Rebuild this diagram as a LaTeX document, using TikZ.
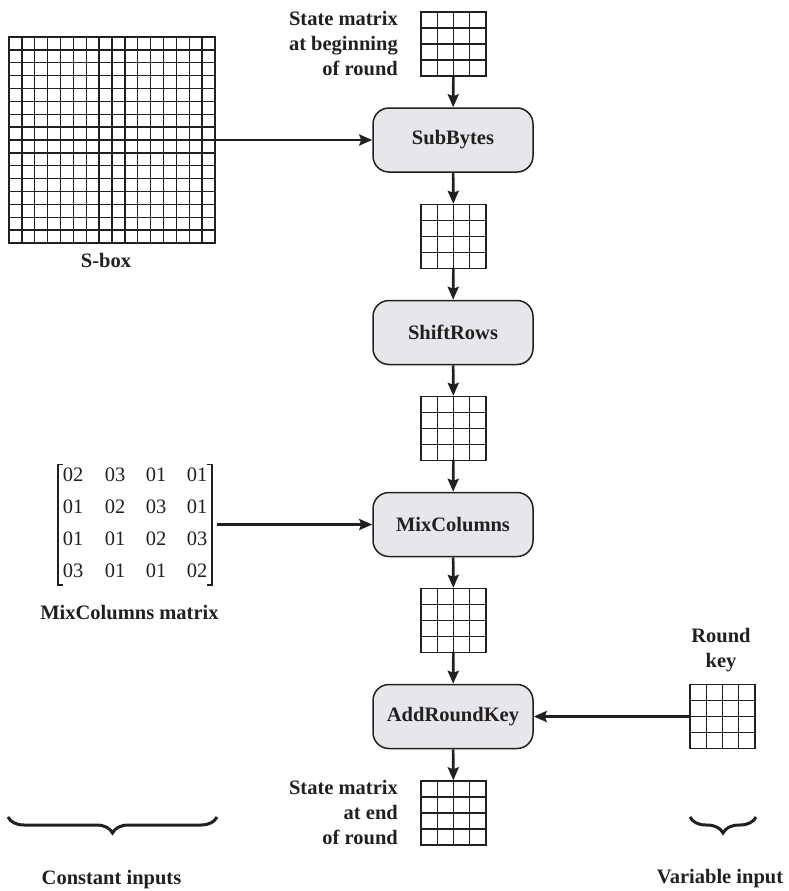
\documentclass[tikz,border=0pt]{standalone}
\usepackage{fontspec}
\setmainfont{Liberation Serif}
\usetikzlibrary{arrows.meta,calc,decorations.pathreplacing}
\definecolor{ink}{RGB}{35,31,32}
\definecolor{boxfill}{RGB}{231,231,235}
\tikzset{
  cellgrid/.style={draw=ink, line width=1.4pt, inner sep=0pt, fill=white,
    path picture={
      \pgfmathtruncatemacro\nn{#1-1}
      \foreach \k in {1,...,\nn}{
        \draw[line width=1.4pt, ink]
          ($(path picture bounding box.north west)!\k/#1!(path picture bounding box.north east)$) --
          ($(path picture bounding box.south west)!\k/#1!(path picture bounding box.south east)$);
        \draw[line width=1.4pt, ink]
          ($(path picture bounding box.north west)!\k/#1!(path picture bounding box.south west)$) --
          ($(path picture bounding box.north east)!\k/#1!(path picture bounding box.south east)$);
      }
    }},
  smallgrid/.style={cellgrid=4, minimum width=65pt, minimum height=64pt},
  stepbox/.style={draw=ink, line width=1.5pt, fill=boxfill, rounded corners=16pt,
    minimum width=160pt, minimum height=64pt, font=\bfseries\fontsize{20.5}{25}\selectfont, text=ink},
  flow/.style={draw=ink, line width=2.6pt, -{Stealth[length=13pt,width=11pt,inset=2pt]}},
  lbl/.style={font=\bfseries\fontsize{20.5}{25}\selectfont, text=ink, inner sep=0pt},
  entry/.style={font=\fontsize{20.5}{25}\selectfont, text=ink, inner sep=0pt},
  bracket/.style={draw=ink, line width=1.6pt},
  bracelike/.style={draw=ink, line width=3pt}
}
\begin{document}
\begin{tikzpicture}[x=1pt,y=-1pt]
\useasboundingbox (0,0) rectangle (789,891);

% central column
\node[smallgrid] (g1) at (453.5,44) {};
\node[stepbox] (sub) at (453,140) {SubBytes};
\node[smallgrid] (g2) at (453.5,236.5) {};
\node[stepbox] (shift) at (453,332.5) {ShiftRows};
\node[smallgrid] (g3) at (453.5,428.5) {};
\node[stepbox] (mix) at (453,524.5) {MixColumns};
\node[smallgrid] (g4) at (453.5,620.5) {};
\node[stepbox] (ark) at (453,716.5) {AddRoundKey};
\node[smallgrid] (g5) at (453.5,813) {};

\draw[flow] (g1) -- (sub);
\draw[flow] (sub) -- (g2);
\draw[flow] (g2) -- (shift);
\draw[flow] (shift) -- (g3);
\draw[flow] (g3) -- (mix);
\draw[flow] (mix) -- (g4);
\draw[flow] (g4) -- (ark);
\draw[flow] (ark) -- (g5);

\node[lbl, align=right, anchor=north east] (toplbl) at (398,11) {State matrix\\at beginning\\of round};
\node[lbl, align=right, anchor=north east] (botlbl) at (398,780) {State matrix\\at end\\of round};

% S-box
\node[cellgrid=16, minimum width=206pt, minimum height=206pt] (sbox) at (112,140) {};
\node[lbl, anchor=north] (sboxlbl) at (106,253) {S-box};
\draw[flow] (sbox.east) -- (sub.west);

% MixColumns matrix
\node[minimum width=154pt, minimum height=120pt, inner sep=0pt] (mixmat) at (135,524.5) {};
\draw[bracket] ($(mixmat.north west)+(5,0)$) -- (mixmat.north west) -- (mixmat.south west) -- ++(5,0);
\draw[bracket] ($(mixmat.north east)+(-5,0)$) -- (mixmat.north east) -- (mixmat.south east) -- ++(-5,0);
\foreach \r/\y/\a/\b/\c/\d in {1/475/02/03/01/01, 2/506.5/01/02/03/01, 3/538.5/01/01/02/03, 4/571/03/01/01/02}{
  \node[entry] (m\r a) at (73,\y) {\a};
  \node[entry] (m\r b) at (115,\y) {\b};
  \node[entry] (m\r c) at (156,\y) {\c};
  \node[entry] (m\r d) at (197,\y) {\d};
}
\node[lbl, anchor=north] (mixlbl) at (129.5,605) {MixColumns matrix};
\draw[flow, shorten <=5pt] (mixmat.east) -- (mix.west);

% Round key
\node[smallgrid] (rk) at (722.5,716.5) {};
\node[lbl, align=center, anchor=north] (rklbl) at (721,628) {Round\\key};
\draw[flow] (rk.west) -- (ark.east);

% braces
\coordinate (cb1) at (8,817);
\coordinate (cb2) at (217,817);
\draw[bracelike, decorate, decoration={brace, mirror, amplitude=16pt}] (cb1) -- (cb2);
\node[lbl, anchor=north] (constlbl) at (111.5,870) {Constant inputs};
\coordinate (vb1) at (690,817);
\coordinate (vb2) at (756,817);
\draw[bracelike, decorate, decoration={brace, mirror, amplitude=16pt}] (vb1) -- (vb2);
\node[lbl, anchor=north] (varlbl) at (720,869) {Variable input};
\end{tikzpicture}
\end{document}
